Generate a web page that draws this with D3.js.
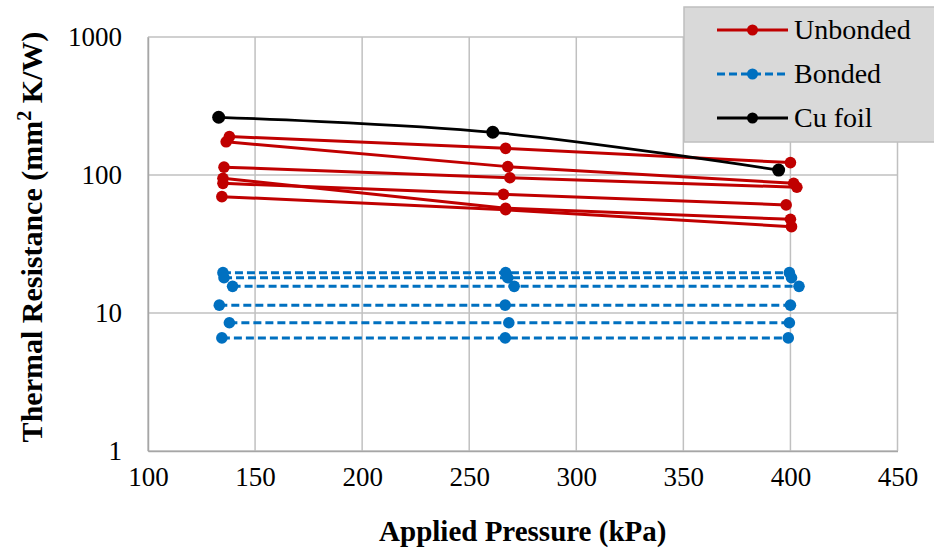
<!DOCTYPE html>
<html>
<head>
<meta charset="utf-8">
<script src="https://cdn.jsdelivr.net/npm/d3@7"></script>
<style>
  body { margin: 0; background: #fff; }
  text { font-family: "Liberation Serif", "Times New Roman", serif; }
</style>
</head>
<body>
<svg id="chart"></svg>
<script>
var width = 934,
    height = 554;

// tick values
var xTicks = [100, 150, 200, 250, 300, 350, 400, 450];
var yTicks = [1, 10, 100, 1000];

// unbonded samples (pressure kPa, resistance mm2 K/W)
var unbondedPressure = [
  [138, 267, 400],
  [136.5, 268, 401.5],
  [135.5, 269, 403],
  [135, 267, 400],
  [135, 266, 398],
  [134.5, 267, 400.5]
];
var unbondedResistance = [
  [190, 156, 123],
  [174, 115, 87],
  [114, 95.5, 81.5],
  [94.6, 57.4, 47.8],
  [87, 72.4, 60.7],
  [69.7, 56, 42.2]
];

// bonded samples
var bondedPressure = [
  [135, 267, 399.5],
  [135.5, 268, 400.5],
  [139.5, 271, 404],
  [133.3, 266.8, 400],
  [138, 268.5, 399.5],
  [134.5, 266.8, 399]
];
var bondedResistance = [
  [19.6, 19.6, 19.6],
  [18, 18, 18],
  [15.6, 15.6, 15.6],
  [11.4, 11.4, 11.4],
  [8.5, 8.5, 8.5],
  [6.6, 6.6, 6.6]
];

// Cu foil
var cuPressure = [133, 261, 394.5];
var cuResistance = [262, 204, 108.6];

var legendNames = ["Unbonded", "Bonded", "Cu foil"];

var red = "#c00000",
    blue = "#0070c0",
    black = "#000000",
    gridColor = "#c0c0c0";

var margin = {left: 148, right: 36.5, top: 37, bottom: 103};

var svg = d3.select("#chart").attr("width", width).attr("height", height);

var x = d3.scaleLinear()
  .domain([100, 450])
  .range([margin.left, width - margin.right]);

var y = d3.scaleLog()
  .domain([1, 1000])
  .range([height - margin.bottom, margin.top]);

// grid
var grid = svg.append("g").attr("class", "grid");
grid.selectAll("line.gx")
  .data(xTicks)
  .enter().append("line")
  .attr("x1", function(d) { return x(d); })
  .attr("x2", function(d) { return x(d); })
  .attr("y1", y(1))
  .attr("y2", y(1000))
  .attr("stroke", gridColor)
  .attr("stroke-width", 1.5);
grid.selectAll("line.gy")
  .data(yTicks)
  .enter().append("line")
  .attr("x1", x(100))
  .attr("x2", x(450))
  .attr("y1", function(d) { return y(d); })
  .attr("y2", function(d) { return y(d); })
  .attr("stroke", gridColor)
  .attr("stroke-width", 1.5);

// axes
var xAxis = svg.append("g")
  .attr("transform", "translate(0," + y(1) + ")")
  .attr("font-family", "'Liberation Serif', serif")
  .call(d3.axisBottom(x).tickValues(xTicks).tickSize(0).tickPadding(16).tickFormat(d3.format("d")));
xAxis.select(".domain").attr("stroke", "#a6a6a6").attr("stroke-width", 1.5);
xAxis.selectAll("text")
  .attr("font-size", 27)
  .attr("fill", "#000")
  .attr("dy", "0.71em");

var yAxis = svg.append("g")
  .attr("transform", "translate(" + x(100) + ",0)")
  .attr("font-family", "'Liberation Serif', serif")
  .call(d3.axisLeft(y).tickValues(yTicks).tickSize(0).tickPadding(26).tickFormat(d3.format("d")));
yAxis.select(".domain").attr("stroke", "#a6a6a6").attr("stroke-width", 1.5);
yAxis.selectAll("text")
  .attr("font-size", 27)
  .attr("fill", "#000");

// axis titles
svg.append("text")
  .attr("x", (x(100) + x(450)) / 2)
  .attr("y", 541)
  .attr("text-anchor", "middle")
  .attr("font-size", 29)
  .attr("font-weight", "bold")
  .text("Applied Pressure (kPa)");

var yTitle = svg.append("text")
  .attr("transform", "translate(42,237) rotate(-90)")
  .attr("text-anchor", "middle")
  .attr("font-size", 30)
  .attr("font-weight", "bold");
yTitle.append("tspan").text("Thermal Resistance (mm");
yTitle.append("tspan").attr("font-size", 20).attr("dy", -11).text("2");
yTitle.append("tspan").attr("dy", 11).text(" K/W)");

// series
function zip(px, py) {
  return px.map(function(p, i) { return [p, py[i]]; });
}

var lineGen = d3.line()
  .x(function(d) { return x(d[0]); })
  .y(function(d) { return y(d[1]); });

var smoothLine = d3.line()
  .x(function(d) { return x(d[0]); })
  .y(function(d) { return y(d[1]); })
  .curve(d3.curveCatmullRom.alpha(0.5));

var plot = svg.append("g").attr("class", "series");

function drawSeries(points, color, dash, r, smooth, sw) {
  var g = plot.append("g");
  g.append("path")
    .datum(points)
    .attr("d", smooth ? smoothLine : lineGen)
    .attr("fill", "none")
    .attr("stroke", color)
    .attr("stroke-width", sw)
    .attr("stroke-dasharray", dash);
  g.selectAll("circle")
    .data(points)
    .enter().append("circle")
    .attr("cx", function(d) { return x(d[0]); })
    .attr("cy", function(d) { return y(d[1]); })
    .attr("r", r)
    .attr("fill", color);
}

for (var i = 0; i < unbondedPressure.length; i++) {
  drawSeries(zip(unbondedPressure[i], unbondedResistance[i]), red, null, 5.8, false, 3);
}
for (var j = 0; j < bondedPressure.length; j++) {
  drawSeries(zip(bondedPressure[j], bondedResistance[j]), blue, "8,4", 5.8, false, 3);
}
drawSeries(zip(cuPressure, cuResistance), black, null, 6.5, true, 2.75);

// legend
var legend = svg.append("g").attr("class", "legend");
legend.append("rect")
  .attr("x", 684)
  .attr("y", 7)
  .attr("width", 260)
  .attr("height", 135)
  .attr("fill", "#d9d9d9")
  .attr("stroke", "#bfbfbf")
  .attr("stroke-width", 1.5);

var legendColors = [red, blue, black];
var legendDash = [null, "8,4", null];
legendNames.forEach(function(name, k) {
  var ly = 30 + k * 44;
  legend.append("line")
    .attr("x1", 717).attr("x2", 788)
    .attr("y1", ly).attr("y2", ly)
    .attr("stroke", legendColors[k])
    .attr("stroke-width", 3)
    .attr("stroke-dasharray", legendDash[k]);
  legend.append("circle")
    .attr("cx", 752.5).attr("cy", ly)
    .attr("r", 5.5)
    .attr("fill", legendColors[k]);
  legend.append("text")
    .attr("x", 794)
    .attr("y", ly + 9)
    .attr("font-size", 28)
    .text(name);
});
</script>
</body>
</html>
